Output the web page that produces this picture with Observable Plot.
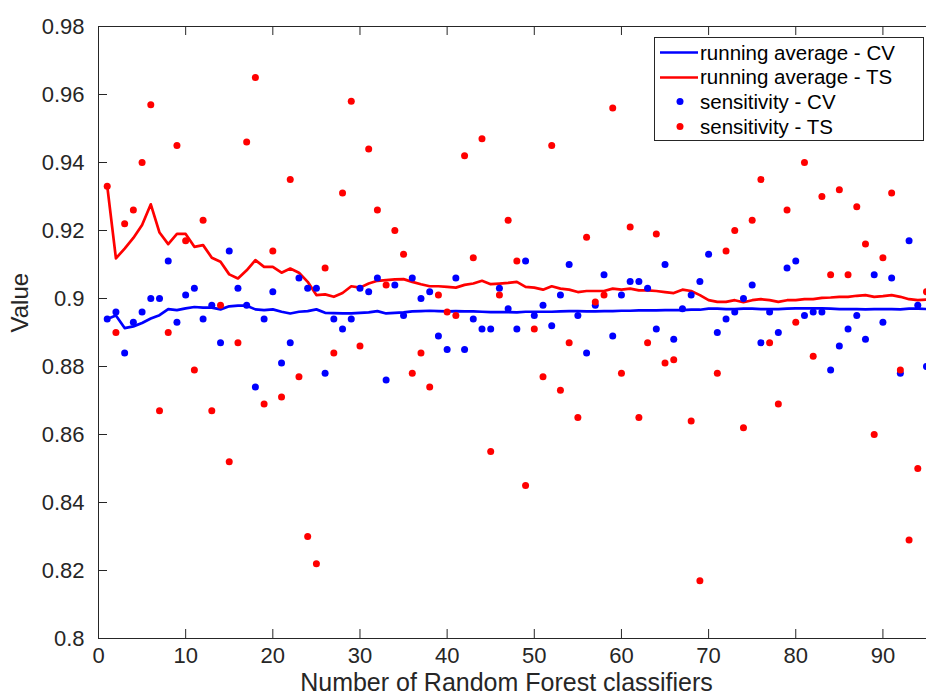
<!DOCTYPE html>
<html><head><meta charset="utf-8">
<script src="https://cdn.jsdelivr.net/npm/d3@7"></script>
<script src="https://cdn.jsdelivr.net/npm/@observablehq/plot@0.6"></script>
<style>
body{margin:0;background:#fff;font-family:"Liberation Sans",Arial,sans-serif;}
#wrap{position:relative;width:926px;height:700px;overflow:hidden;}
#legend{position:absolute;left:654px;top:37px;width:270px;height:104px;border:1px solid #262626;background:#fff;box-sizing:border-box;font-size:20.5px;color:#000;}
#legend .row{position:absolute;left:0;height:25px;display:flex;align-items:center;}
#legend svg{display:block;}
</style></head><body>
<div id="wrap"></div>
<script>
const classifiers = d3.range(1, 96);
const sensCV = [0.894,0.896,0.884,0.893,0.896,0.900,0.900,0.911,0.893,0.901,
0.903,0.894,0.898,0.887,0.914,0.903,0.898,0.874,0.894,0.902,
0.881,0.887,0.906,0.903,0.903,0.878,0.894,0.891,0.894,0.903,
0.902,0.906,0.876,0.904,0.895,0.906,0.900,0.902,0.889,0.885,
0.906,0.885,0.894,0.891,0.891,0.903,0.897,0.891,0.911,0.895,
0.898,0.892,0.901,0.910,0.895,0.884,0.898,0.907,0.889,0.901,
0.905,0.905,0.903,0.891,0.910,0.888,0.897,0.901,0.905,0.913,
0.890,0.894,0.896,0.900,0.904,0.887,0.896,0.890,0.909,0.911,
0.895,0.896,0.896,0.879,0.886,0.891,0.895,0.888,0.907,0.893,
0.906,0.878,0.917,0.898,0.880];
const sensTS = [0.933,0.890,0.922,0.926,0.940,0.957,0.867,0.890,0.945,0.917,
0.879,0.923,0.867,0.898,0.852,0.887,0.946,0.965,0.869,0.914,
0.871,0.935,0.877,0.830,0.822,0.909,0.884,0.931,0.958,0.886,
0.944,0.926,0.904,0.920,0.913,0.878,0.884,0.874,0.901,0.896,
0.895,0.942,0.912,0.947,0.855,0.901,0.923,0.911,0.845,0.891,
0.877,0.945,0.873,0.887,0.865,0.918,0.899,0.901,0.956,0.878,
0.921,0.865,0.887,0.919,0.881,0.882,0.960,0.864,0.817,0.795,
0.878,0.914,0.920,0.862,0.923,0.935,0.887,0.869,0.926,0.893,
0.940,0.883,0.930,0.907,0.932,0.907,0.927,0.916,0.860,0.912,
0.931,0.879,0.829,0.850,0.902];
const avgCV = [0.8940,0.8950,0.8913,0.8918,0.8928,0.8941,0.8951,0.8969,0.8966,0.8971,
0.8975,0.8973,0.8973,0.8968,0.8977,0.8979,0.8979,0.8968,0.8966,0.8968,
0.8961,0.8956,0.8961,0.8963,0.8968,0.8958,0.8957,0.8956,0.8956,0.8958,
0.8959,0.8963,0.8956,0.8958,0.8959,0.8962,0.8963,0.8964,0.8963,0.8962,
0.8963,0.8962,0.8962,0.8961,0.8960,0.8960,0.8960,0.8959,0.8961,0.8961,
0.8961,0.8961,0.8962,0.8963,0.8963,0.8962,0.8962,0.8963,0.8963,0.8964,
0.8964,0.8965,0.8965,0.8965,0.8966,0.8966,0.8966,0.8967,0.8967,0.8970,
0.8970,0.8969,0.8969,0.8970,0.8970,0.8969,0.8969,0.8969,0.8970,0.8971,
0.8971,0.8971,0.8971,0.8970,0.8969,0.8969,0.8969,0.8968,0.8969,0.8969,
0.8969,0.8968,0.8970,0.8970,0.8969];
const avgTS = [0.9331,0.9118,0.9147,0.9178,0.9216,0.9277,0.9194,0.9160,0.9190,0.9190,
0.9152,0.9157,0.9120,0.9108,0.9071,0.9059,0.9083,0.9113,0.9093,0.9093,
0.9076,0.9088,0.9076,0.9049,0.9010,0.9012,0.9005,0.9016,0.9036,0.9032,
0.9044,0.9052,0.9054,0.9056,0.9057,0.9049,0.9042,0.9036,0.9036,0.9034,
0.9032,0.9040,0.9044,0.9052,0.9042,0.9044,0.9046,0.9049,0.9034,0.9032,
0.9026,0.9036,0.9029,0.9026,0.9019,0.9022,0.9022,0.9022,0.9029,0.9026,
0.9029,0.9024,0.9024,0.9022,0.9019,0.9016,0.9026,0.9022,0.9010,0.8995,
0.8990,0.8990,0.8995,0.8989,0.8995,0.8998,0.8995,0.8990,0.8995,0.8995,
0.8998,0.8998,0.9002,0.9003,0.9005,0.9005,0.9008,0.9010,0.9005,0.9007,
0.9010,0.9005,0.8998,0.8995,0.8997];
const xTicks = [0,10,20,30,40,50,60,70,80,90];
const yTicks = [0.8,0.82,0.84,0.86,0.88,0.9,0.92,0.94,0.96,0.98];
const seriesNames = ["running average - CV","running average - TS","sensitivity - CV","sensitivity - TS"];
const seriesColors = ["#0000ff","#ff0000","#0000ff","#ff0000"];
const xLabel = "Number of Random Forest classifiers";
const yLabel = "Value";

const rows = classifiers.map((n, i) => ({n, sensCV: sensCV[i], sensTS: sensTS[i], avgCV: avgCV[i], avgTS: avgTS[i]}));

const W = 926, H = 700, mL = 98, mR = 0, mT = 26, mB = 62;
const pw = W - mL - mR, ph = H - mT - mB;
const axisColor = "#262626";
const font = "Liberation Sans, Arial, sans-serif";

const chart = Plot.plot({
  width: W, height: H,
  marginLeft: mL, marginRight: mR, marginTop: mT, marginBottom: mB,
  style: {fontFamily: font, background: "#fff", overflow: "visible"},
  x: {domain: [0, 95]},
  y: {domain: [0.8, 0.98]},
  marks: [
    Plot.line(rows, {x: "n", y: "avgCV", stroke: seriesColors[0], strokeWidth: 2.7, clip: true}),
    Plot.line(rows, {x: "n", y: "avgTS", stroke: seriesColors[1], strokeWidth: 2.7, clip: true}),
    Plot.dot(rows, {x: "n", y: "sensCV", fill: seriesColors[2], r: 3.5, clip: true}),
    Plot.dot(rows, {x: "n", y: "sensTS", fill: seriesColors[3], r: 3.5, clip: true}),
    Plot.tickX(xTicks, {stroke: axisColor, insetTop: ph - 9}),
    Plot.tickX(xTicks, {stroke: axisColor, insetBottom: ph - 9}),
    Plot.tickY(yTicks, {stroke: axisColor, insetRight: pw - 9}),
    Plot.frame({stroke: axisColor, strokeWidth: 1}),
    Plot.axisX({ticks: xTicks, tickSize: 0, tickPadding: 9, fontSize: 22, fill: axisColor, label: null}),
    Plot.axisY({ticks: yTicks, tickSize: 0, tickPadding: 14, fontSize: 22, fill: axisColor, label: null, tickFormat: d => String(+d.toFixed(2))}),
    Plot.text([xLabel], {frameAnchor: "bottom", dx: -6, dy: 52, fontSize: 25, fill: axisColor}),
    Plot.text([yLabel], {frameAnchor: "left", dx: -78, rotate: -90, fontSize: 24, fill: axisColor})
  ]
});
const wrap = document.getElementById("wrap");
wrap.appendChild(chart);

// legend
const leg = document.createElement("div");
leg.id = "legend";
seriesNames.forEach((name, i) => {
  const row = document.createElement("div");
  row.className = "row";
  row.style.top = (2 + i * 24.7) + "px";
  const ns = "http://www.w3.org/2000/svg";
  const s = document.createElementNS(ns, "svg");
  s.setAttribute("width", 45); s.setAttribute("height", 25);
  if (i < 2) {
    const l = document.createElementNS(ns, "line");
    l.setAttribute("x1", 5); l.setAttribute("x2", 43); l.setAttribute("y1", 12.5); l.setAttribute("y2", 12.5);
    l.setAttribute("stroke", seriesColors[i]); l.setAttribute("stroke-width", 2.7);
    s.appendChild(l);
  } else {
    const c = document.createElementNS(ns, "circle");
    c.setAttribute("cx", 25); c.setAttribute("cy", 12.5); c.setAttribute("r", 3.5);
    c.setAttribute("fill", seriesColors[i]);
    s.appendChild(c);
  }
  row.appendChild(s);
  const t = document.createElement("span");
  t.textContent = name;
  row.appendChild(t);
  leg.appendChild(row);
});
wrap.appendChild(leg);
</script>
</body></html>
